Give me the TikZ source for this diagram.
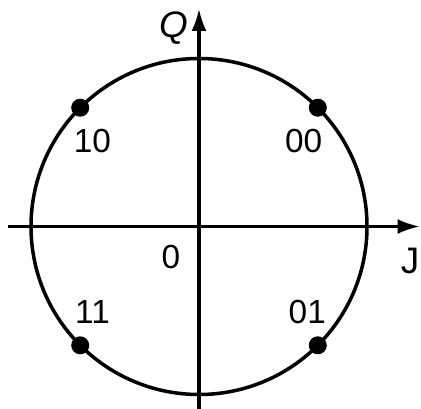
\documentclass[tikz,border=0pt]{standalone}
\usepackage{fontspec}
\setmainfont{Liberation Sans}
\usetikzlibrary{arrows.meta,positioning}

\begin{document}
\begin{tikzpicture}[x=0.02cm,y=0.02cm,>={Latex[length=4.5mm,width=3mm]},
 axis/.style={line width=2pt,->},
 ring/.style={line width=2pt},
 dot/.style={circle,fill=black,inner sep=0pt,minimum size=0.36cm},
 lbl/.style={font=\fontsize{19}{22}\selectfont,inner sep=0pt}]
\useasboundingbox (-199,-181.5) rectangle (222,226.5);
% axes
\coordinate (xl) at (-191,0);
\coordinate (xr) at (221,0);
\coordinate (yb) at (0,-182);
\coordinate (yt) at (0,218);
\draw[axis] (xl)--(xr);
\draw[axis] (yb)--(yt);
\node[lbl,font=\fontsize{21}{24}\selectfont\itshape] (qlab) at (-25,198) {Q};
\node[lbl,font=\fontsize{21}{24}\selectfont] (jlab) at (211,-34) {J};
\node[lbl] (orig) at (-28,-31) {0};
% circle and points
\draw[ring] (0,0) circle (168);
\node[dot] (p00) at (45:168) {};
\node[dot] (p10) at (135:168) {};
\node[dot] (p11) at (225:168) {};
\node[dot] (p01) at (315:168) {};
\node[lbl,below=12 of p00,xshift=-8] (l00) {00};
\node[lbl,below=12 of p10,xshift=7] (l10) {10};
\node[lbl,above=12 of p11,xshift=7] (l11) {11};
\node[lbl,above=12 of p01,xshift=-6] (l01) {01};
\end{tikzpicture}
\end{document}
